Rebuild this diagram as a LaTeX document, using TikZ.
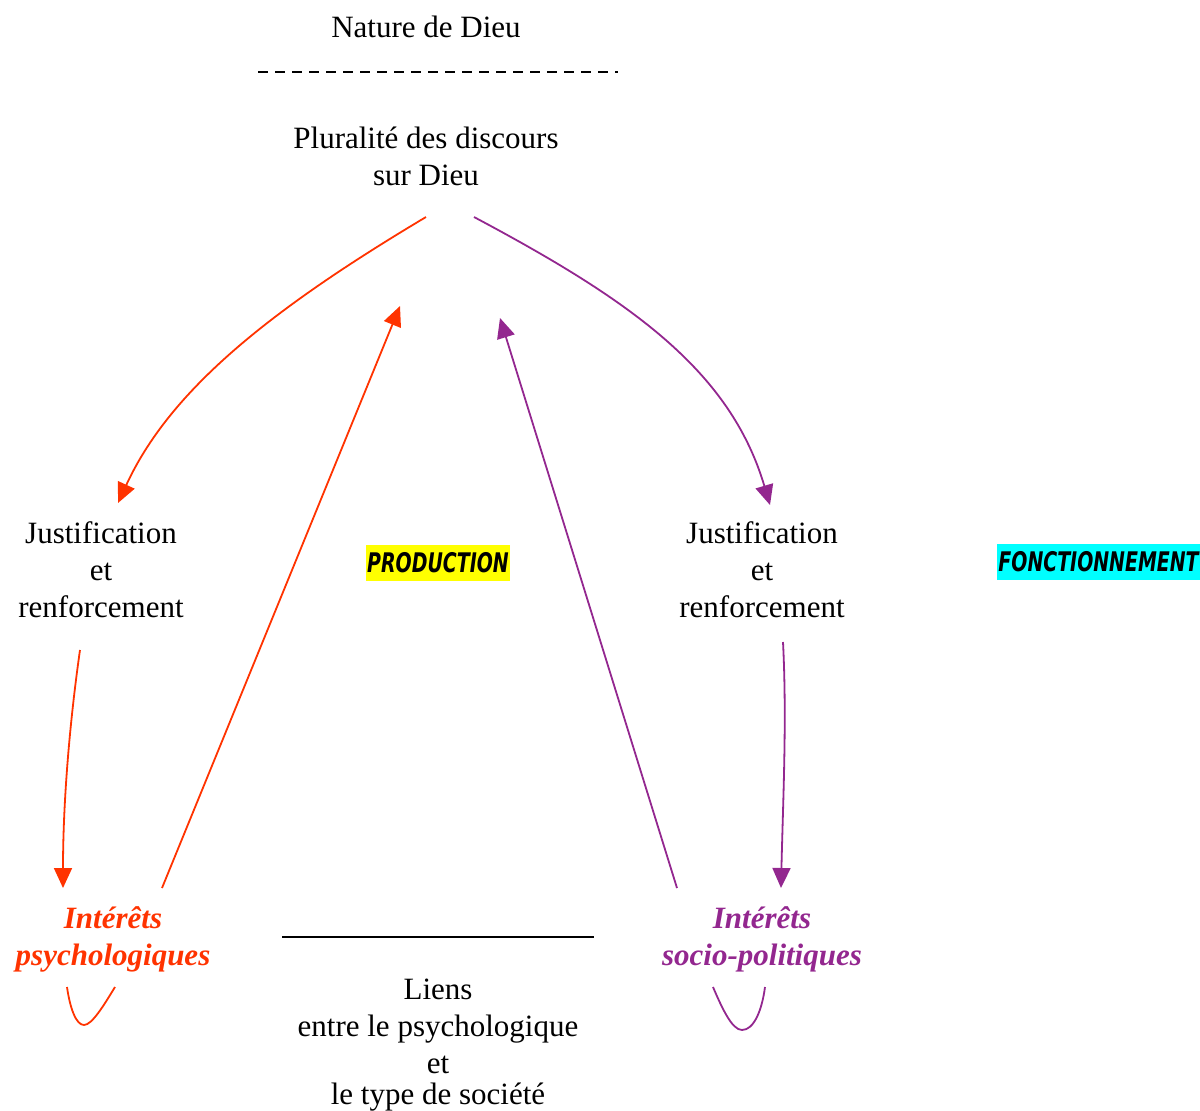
\documentclass[tikz,border=0pt]{standalone}
\usepackage{fontspec}
\usepackage{graphicx}
\setmainfont{Liberation Serif}
\newfontfamily\labelfont{DejaVu Sans Condensed}
\usetikzlibrary{arrows.meta}
\definecolor{myred}{RGB}{255,51,0}
\definecolor{mypurple}{RGB}{147,39,143}
\definecolor{myyellow}{RGB}{255,255,0}
\definecolor{mycyan}{RGB}{0,255,255}
\newcommand{\tagtext}[1]{\scalebox{0.78}[1]{#1}}
\begin{document}
\begin{tikzpicture}[x=0.5pt,y=-0.5pt,
  txt/.style={font=\fontsize{15.5}{18.5}\selectfont, align=center, inner sep=0pt},
  bi/.style={font=\fontsize{15.5}{18.5}\selectfont\bfseries\itshape, align=center, inner sep=0pt},
  tag/.style={font=\labelfont\bfseries\itshape\fontsize{13.5}{15}\selectfont, inner xsep=0.5pt, inner ysep=0pt, minimum height=18pt},
  redarr/.style={draw=myred, line width=0.9pt, -{Triangle[length=10pt,width=9pt]}, fill=none},
  purarr/.style={draw=mypurple, line width=0.9pt, -{Triangle[length=10pt,width=9pt]}, fill=none},
  redline/.style={draw=myred, line width=0.9pt},
  purline/.style={draw=mypurple, line width=0.9pt}
]
\useasboundingbox (0,0) rectangle (1200,1110);

\node[txt] (nature) at (426,27) {Nature de Dieu};
\coordinate (dashA) at (258,72);
\coordinate (dashB) at (618,72);
\draw[line width=0.7pt, dash pattern=on 5pt off 3.5pt] (dashA) -- (dashB);

\node[txt] (plural) at (426,156) {Pluralité des discours\\sur Dieu};

\node[txt] (justL) at (101,570) {Justification\\et\\renforcement};
\node[txt] (justR) at (762,570) {Justification\\et\\renforcement};

\node[tag, fill=myyellow] (prod) at (438,563) {\tagtext{PRODUCTION}};
\node[tag, fill=mycyan, anchor=east] (fonc) at (1200,562) {\tagtext{FONCTIONNEMENT}};

\node[bi, text=myred] (psy) at (113,939) {Intérêts\\psychologiques};
\node[bi, text=mypurple] (soc) at (762,939) {Intérêts\\socio-politiques};

\coordinate (liensA) at (282,937);
\coordinate (liensB) at (594,937);
\draw[line width=0.8pt] (liensA) -- (liensB);
\node[txt] (liens) at (438,1045) {Liens\\entre le psychologique\\et\\[-3pt]le type de société};

% connector end points
\coordinate (pl1) at (426,217);
\coordinate (pl2) at (474,217);
\coordinate (tipJL) at (118,503);
\coordinate (tipJR) at (770,505);
\coordinate (psyTop) at (162,888);
\coordinate (tipPL) at (400,306);
\coordinate (socTop) at (677,888);
\coordinate (tipPR) at (500,318);
\coordinate (jlBot) at (80,650);
\coordinate (tipPsy) at (63,888);
\coordinate (jrBot) at (783,642);
\coordinate (tipSoc) at (781,888);

\draw[redarr] (pl1) .. controls (270,310) and (170,390) .. (tipJL);
\draw[purarr] (pl2) .. controls (630,300) and (730,370) .. (tipJR);
\draw[redarr] (psyTop) -- (tipPL);
\draw[purarr] (socTop) -- (tipPR);
\draw[redarr] (jlBot) .. controls (70,720) and (63,800) .. (tipPsy);
\draw[purarr] (jrBot) .. controls (787,720) and (783,800) .. (tipSoc);

% loops
\coordinate (uLa) at (67,987);
\coordinate (uLm) at (84,1025);
\coordinate (uLb) at (115,987);
\coordinate (uRa) at (713,987);
\coordinate (uRm) at (742,1030);
\coordinate (uRb) at (765,987);
\draw[redline] (uLa) .. controls (70,1008) and (76,1025) .. (uLm) .. controls (92,1025) and (104,1005) .. (uLb);
\draw[purline] (uRa) .. controls (722,1008) and (732,1030) .. (uRm) .. controls (754,1030) and (762,1010) .. (uRb);
\end{tikzpicture}
\end{document}
